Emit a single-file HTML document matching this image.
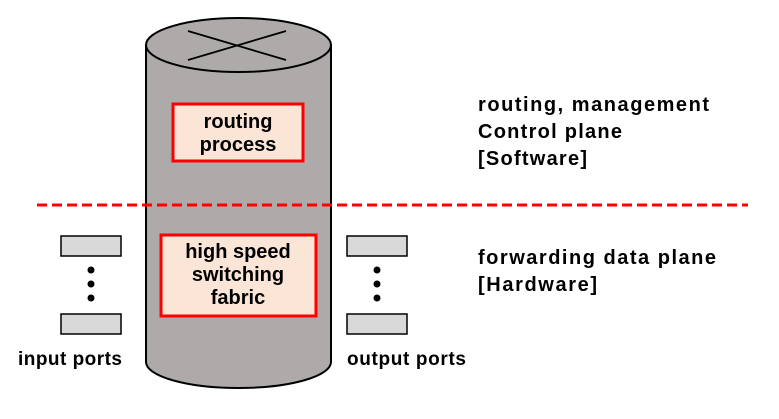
<!DOCTYPE html>
<html><head><style>
body{margin:0;background:#fff;width:779px;height:414px;overflow:hidden}
svg text{font-family:"Liberation Sans","Noto Sans CJK KR",sans-serif;font-weight:bold;fill:#000}
</style></head><body>
<svg width="779" height="414" viewBox="0 0 779 414">
<path d="M146,45 L146,362 A92.5,26 0 0 0 331,362 L331,45 Z" fill="#aeaaaa" stroke="#000" stroke-width="2"/>
<ellipse cx="238.5" cy="45" rx="92.5" ry="27" fill="#aeaaaa" stroke="#000" stroke-width="2"/>
<line x1="188" y1="31" x2="286" y2="60" stroke="#000" stroke-width="1.8"/>
<line x1="188" y1="60" x2="286" y2="31" stroke="#000" stroke-width="1.8"/>
<rect x="173" y="104" width="130" height="57" fill="#fbe5d6" stroke="#f00" stroke-width="3"/>
<text x="238" y="128" font-size="20" text-anchor="middle">routing</text>
<text x="238" y="151" font-size="20" text-anchor="middle">process</text>
<rect x="161" y="235" width="155" height="81" fill="#fbe5d6" stroke="#f00" stroke-width="3"/>
<text x="238" y="258" font-size="20" text-anchor="middle">high speed</text>
<text x="238" y="281" font-size="20" text-anchor="middle">switching</text>
<text x="238" y="304" font-size="20" text-anchor="middle">fabric</text>
<line x1="37" y1="205" x2="748" y2="205" stroke="#f00" stroke-width="3" stroke-dasharray="10,5"/>
<g fill="#d9d9d9" stroke="#000" stroke-width="1.5">
<rect x="61" y="236" width="60" height="20"/><rect x="61" y="314" width="60" height="20"/>
<rect x="347" y="236" width="60" height="20"/><rect x="347" y="314" width="60" height="20"/>
</g>
<g fill="#000">
<circle cx="91" cy="270" r="3.5"/><circle cx="91" cy="284" r="3.5"/><circle cx="91" cy="298" r="3.5"/>
<circle cx="377" cy="270" r="3.5"/><circle cx="377" cy="284" r="3.5"/><circle cx="377" cy="298" r="3.5"/>
</g>
<text x="18" y="365" font-size="19" textLength="104">input ports</text>
<text x="347" y="365" font-size="19" textLength="119">output ports</text>
<text x="478" y="111" font-size="20" textLength="231">routing, management</text>
<text x="478" y="138" font-size="20" textLength="144">Control plane</text>
<text x="478" y="165" font-size="20" textLength="109">[Software]</text>
<text x="478" y="264" font-size="20" textLength="238">forwarding data plane</text>
<text x="478" y="291" font-size="20" textLength="119">[Hardware]</text>
</svg>
</body></html>
